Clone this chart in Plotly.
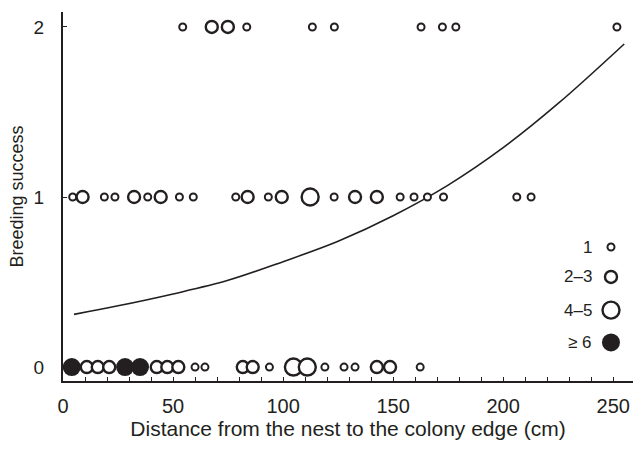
import plotly.graph_objects as go

# ---- data ----
# size class codes: 1 = "1", 2 = "2–3", 3 = "4–5", 4 = "≥ 6"
row2_x = [54.4, 67.6, 74.9, 83.5, 113.3, 123.3, 162.7, 172.4, 178.5, 251.7]
row2_c = [1, 2, 2, 1, 1, 1, 1, 1, 1, 1]

row1_x = [4.4, 8.9, 18.8, 23.6, 32.3, 38.5, 44.4, 52.9, 59.2, 78.5, 83.9, 93.3,
          99.4, 112.3, 123.2, 132.7, 142.6, 153.2, 159.5, 165.6, 172.9, 206.2, 212.7]
row1_c = [1, 2, 1, 1, 2, 1, 2, 1, 1, 1, 2, 1,
          2, 3, 1, 2, 2, 1, 1, 1, 1, 1, 1]

row0_x = [4.0, 10.8, 15.8, 21.0, 28.2, 35.0, 42.6, 47.4, 52.4, 60.0, 64.5, 81.7,
          86.2, 93.8, 104.7, 111.0, 119.0, 127.7, 132.7, 142.6, 148.6, 162.3]
row0_c = [4, 2, 2, 2, 4, 4, 2, 2, 2, 1, 1, 2,
          2, 1, 3, 3, 1, 1, 1, 2, 2, 1]

# fitted curve
curve_x = [5, 25, 50, 75, 100, 125, 150, 175, 200, 225, 255]
curve_y = [0.31, 0.36, 0.43, 0.51, 0.62, 0.74, 0.89, 1.07, 1.29, 1.55, 1.90]

size_labels = ["1", "2–3", "4–5", "≥ 6"]
legend_y = [0.706, 0.53, 0.335, 0.145]
legend_x = 249

y_ticks = [0, 1, 2]
x_ticks = [0, 50, 100, 150, 200, 250]

# ---- styling ----
INK = "#231f20"
FONT = "Liberation Sans, Arial, Helvetica, sans-serif"
msize = {1: 7, 2: 12, 3: 17, 4: 18}
mline = {1: 2.0, 2: 2.4, 3: 2.4, 4: 0}
mfill = {1: "white", 2: "white", 3: "white", 4: INK}

fig = go.Figure()

fig.add_trace(go.Scatter(x=curve_x, y=curve_y, mode="lines",
                         line=dict(color=INK, width=1.6, shape="spline"),
                         hoverinfo="skip", showlegend=False))

for xs, cs, yv in [(row0_x, row0_c, 0), (row1_x, row1_c, 1), (row2_x, row2_c, 2)]:
    for code in [1, 2, 3, 4]:
        px = [x for x, c in zip(xs, cs) if c == code]
        if not px:
            continue
        fig.add_trace(go.Scatter(
            x=px, y=[yv] * len(px), mode="markers",
            marker=dict(size=msize[code], color=mfill[code],
                        line=dict(color=INK, width=mline[code])),
            hoverinfo="skip", showlegend=False))

# legend key
for i, lab in enumerate(size_labels):
    code = i + 1
    fig.add_trace(go.Scatter(
        x=[legend_x], y=[legend_y[i]], mode="markers",
        marker=dict(size=msize[code], color=mfill[code],
                    line=dict(color=INK, width=mline[code])),
        hoverinfo="skip", showlegend=False))
    fig.add_annotation(x=legend_x - 7.5, y=legend_y[i], text=lab, showarrow=False,
                       xanchor="right", yanchor="middle",
                       font=dict(family=FONT, size=17, color=INK))

fig.update_layout(
    width=633, height=452,
    margin=dict(l=63, r=0, t=12, b=71),
    paper_bgcolor="white", plot_bgcolor="white",
    font=dict(family=FONT, size=18, color=INK),
    showlegend=False,
)
fig.update_xaxes(
    range=[0, 259], tickvals=x_ticks, ticks="inside", ticklen=4, tickwidth=1,
    tickcolor=INK, showline=True, linecolor=INK, linewidth=2, showgrid=False,
    zeroline=False, ticklabelstandoff=6,
    tickfont=dict(family=FONT, size=20, color=INK),
    minor=dict(dtick=10, tick0=0, ticks="inside", ticklen=4, tickwidth=1, tickcolor=INK, showgrid=False),
    title=dict(text="Distance from the nest to the colony edge (cm)", standoff=4,
               font=dict(family=FONT, size=21, color=INK)),
)
fig.update_yaxes(
    range=[-0.082, 2.088], tickvals=y_ticks, ticks="inside", ticklen=4, tickwidth=1,
    tickcolor=INK, showline=True, linecolor=INK, linewidth=2, showgrid=False,
    zeroline=False, ticklabelstandoff=13,
    tickfont=dict(family=FONT, size=19, color=INK),
    title=dict(text="Breeding success", standoff=5,
               font=dict(family=FONT, size=18, color=INK)),
)

# remove the browser's default 8px page margin so the figure fills the window
fig.write_html("out.html", config={"displayModeBar": False},
               post_script="document.body.style.margin='0';document.body.style.overflow='hidden';")
